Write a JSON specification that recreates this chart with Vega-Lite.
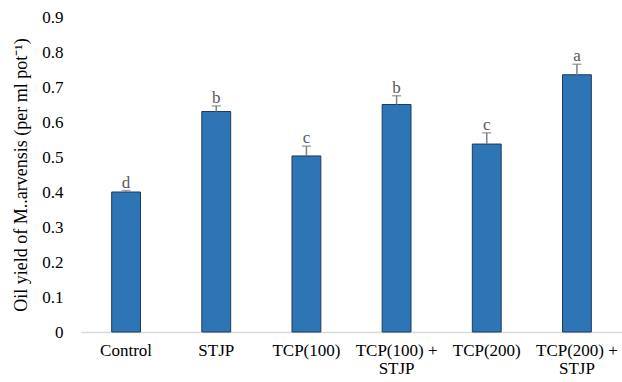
{
  "$schema": "https://vega.github.io/schema/vega-lite/v6.json",
  "autosize": "none",
  "width": 541,
  "height": 315,
  "padding": {"left": 81, "top": 17, "right": 0, "bottom": 50},
  "background": "white",
  "config": {
    "view": {"stroke": null},
    "font": "Liberation Serif",
    "axis": {"labelFont": "Liberation Serif", "titleFont": "Liberation Serif", "labelColor": "#000000", "titleColor": "#000000", "grid": false},
    "axisY": {
      "titleFontSize": 18, "titleFontWeight": "normal", "titlePadding": 11,
      "labelFontSize": 17, "labelPadding": 18, "ticks": false, "domain": false,
      "labelOverlap": false, "tickCount": 10
    }
  },
  "data": {
    "values": [
      {"treatment": "Control", "mean": 0.40, "upper": 0.404, "letter": "d"},
      {"treatment": "STJP", "mean": 0.63, "upper": 0.646, "letter": "b"},
      {"treatment": "TCP(100)", "mean": 0.503, "upper": 0.531, "letter": "c"},
      {"treatment": "TCP(100) + STJP", "mean": 0.65, "upper": 0.675, "letter": "b"},
      {"treatment": "TCP(200)", "mean": 0.537, "upper": 0.569, "letter": "c"},
      {"treatment": "TCP(200) + STJP", "mean": 0.735, "upper": 0.765, "letter": "a"}
    ]
  },
  "encoding": {
    "x": {
      "field": "treatment", "type": "nominal", "sort": null,
      "scale": {"paddingInner": 0.68, "paddingOuter": 0.34},
      "axis": {
        "title": null, "labelAngle": 0, "labelFontSize": 17, "labelPadding": 10,
        "ticks": false, "domainColor": "#d9d9d9", "domainWidth": 1.5,
        "labelLineHeight": 18, "labelOverlap": false, "labelBound": false,
        "labelExpr": "split(replace(datum.value, ' + ', ' +|'), '|')"
      }
    }
  },
  "layer": [
    {
      "mark": {"type": "bar", "color": "#2E75B6", "stroke": "#1F3A5C", "strokeWidth": 1},
      "encoding": {
        "y": {
          "field": "mean", "type": "quantitative",
          "scale": {"domain": [0, 0.9], "nice": false},
          "axis": {
            "title": "Oil yield of M..arvensis (per ml pot⁻¹)",
            "values": [0, 0.1, 0.2, 0.3, 0.4, 0.5, 0.6, 0.7, 0.8, 0.9],
            "labelExpr": "datum.value == 0 ? '0' : format(datum.value, '.1f')"
          }
        }
      }
    },
    {
      "mark": {"type": "rule", "color": "#808080", "strokeWidth": 1.5},
      "encoding": {
        "y": {"field": "mean", "type": "quantitative",
          "axis": {
            "title": "Oil yield of M..arvensis (per ml pot⁻¹)",
            "values": [0, 0.1, 0.2, 0.3, 0.4, 0.5, 0.6, 0.7, 0.8, 0.9],
            "labelExpr": "datum.value == 0 ? '0' : format(datum.value, '.1f')"
          }},
        "y2": {"field": "upper"}
      }
    },
    {
      "mark": {"type": "tick", "color": "#808080", "size": 9, "thickness": 1.5, "orient": "horizontal"},
      "encoding": {
        "y": {"field": "upper", "type": "quantitative",
          "axis": {
            "title": "Oil yield of M..arvensis (per ml pot⁻¹)",
            "values": [0, 0.1, 0.2, 0.3, 0.4, 0.5, 0.6, 0.7, 0.8, 0.9],
            "labelExpr": "datum.value == 0 ? '0' : format(datum.value, '.1f')"
          }}
      }
    },
    {
      "mark": {"type": "text", "fontSize": 17, "color": "#595959", "baseline": "alphabetic", "dy": -3},
      "encoding": {
        "y": {"field": "upper", "type": "quantitative",
          "axis": {
            "title": "Oil yield of M..arvensis (per ml pot⁻¹)",
            "values": [0, 0.1, 0.2, 0.3, 0.4, 0.5, 0.6, 0.7, 0.8, 0.9],
            "labelExpr": "datum.value == 0 ? '0' : format(datum.value, '.1f')"
          }},
        "text": {"field": "letter"}
      }
    }
  ]
}
